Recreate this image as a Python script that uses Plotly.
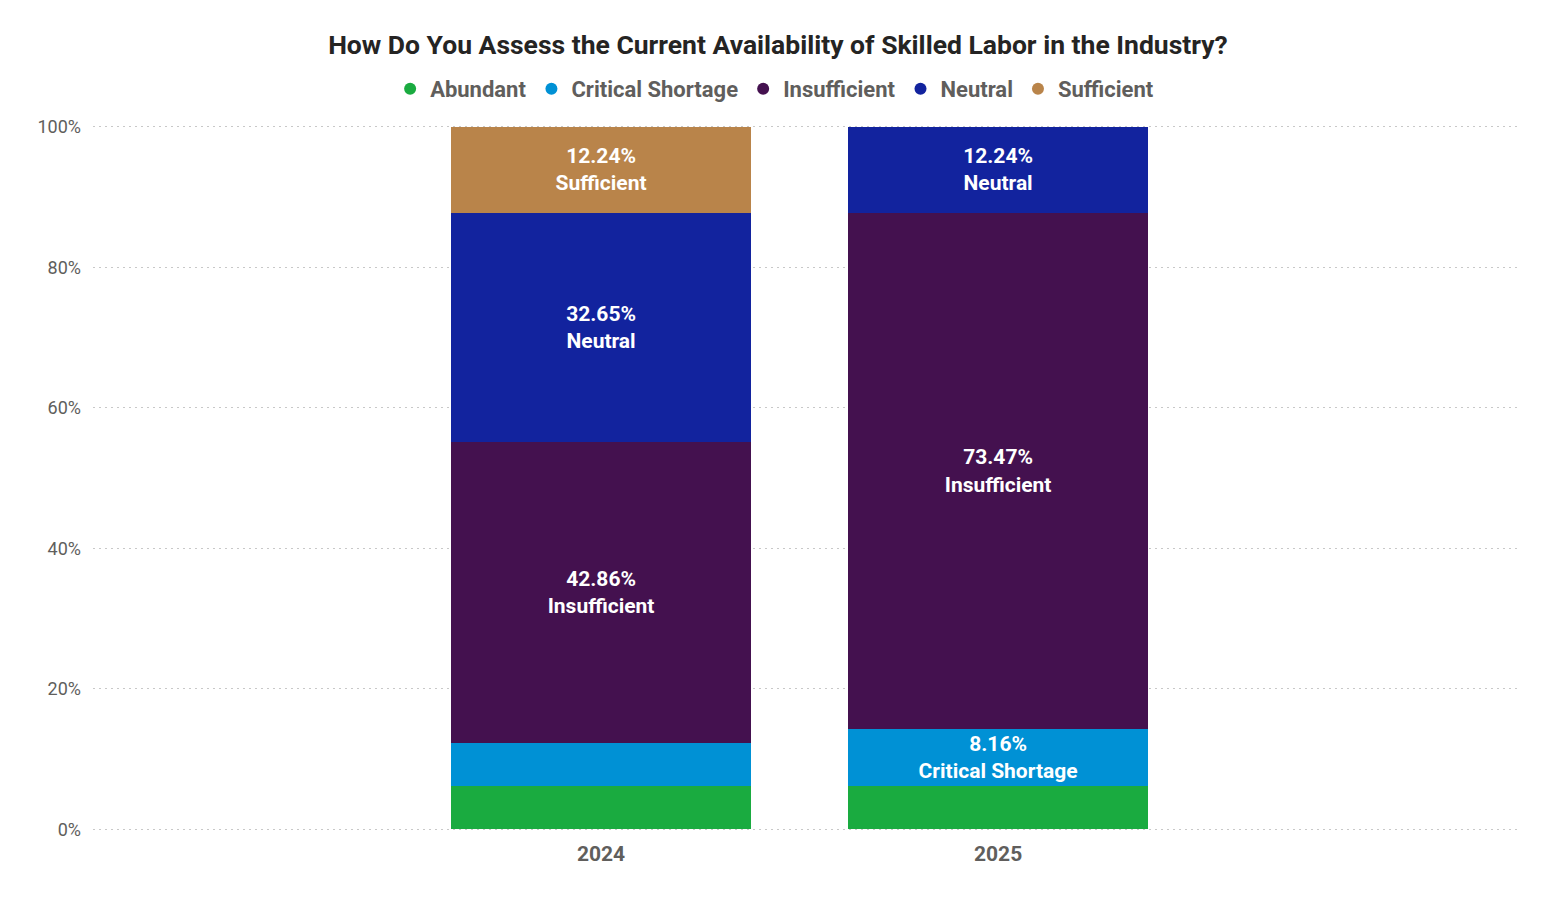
import plotly.graph_objects as go

years = ["2024", "2025"]
categories = ["Abundant", "Critical Shortage", "Insufficient", "Neutral", "Sufficient"]
values = {
    "Abundant": [6.12, 6.12],
    "Critical Shortage": [6.12, 8.16],
    "Insufficient": [42.86, 73.47],
    "Neutral": [32.65, 12.24],
    "Sufficient": [12.24, 0.0],
}
colors = {
    "Abundant": "#1AAB40",
    "Critical Shortage": "#0091D5",
    "Insufficient": "#44114F",
    "Neutral": "#12239E",
    "Sufficient": "#B9844A",
}
label_min = 7.0  # segments below this share show no label

FONT = "Roboto, sans-serif"

fig = go.Figure()
for cat in categories:
    vals = values[cat]
    texts = [f"<b>{v:.2f}%<br>{cat}</b>" if v >= label_min else "" for v in vals]
    fig.add_trace(go.Bar(
        x=years, y=vals, name=cat,
        marker=dict(color=colors[cat], line=dict(width=0)),
        text=texts, textposition="inside", insidetextanchor="middle",
        textangle=0, constraintext="none",
        textfont=dict(color="white", size=21, family=FONT),
        width=0.757, showlegend=False, hoverinfo="skip",
    ))
    fig.add_trace(go.Scatter(
        x=[None], y=[None], mode="markers", name=f"<b>{cat}</b>",
        marker=dict(color=colors[cat], size=12, symbol="circle"),
        showlegend=True,
    ))

fig.update_layout(
    barmode="stack",
    width=1557, height=901,
    paper_bgcolor="white", plot_bgcolor="white",
    margin=dict(l=85, r=46, t=117, b=78),
    font=dict(family=FONT, color="#605E5C"),
    title=dict(text="<b>How Do You Assess the Current Availability of Skilled Labor in the Industry?</b>",
               x=0.4945, xanchor="center", y=1 - 37 / 901, yanchor="middle",
               font=dict(size=26.5, color="#252423", family=FONT)),
    legend=dict(orientation="h", x=0.478, xanchor="center", y=1 + (117 - 81) / 706, yanchor="middle",
                font=dict(size=22, color="#605E5C", family=FONT), traceorder="normal",
                itemwidth=30, tracegroupgap=0, itemsizing="constant"),
    xaxis=dict(type="category", range=[-1.2796, 2.312], showgrid=False, zeroline=False,
               showline=False, ticks="", ticklabelstandoff=8,
               tickfont=dict(size=21, color="#605E5C", family=FONT),
               tickprefix="<b>", ticksuffix="</b>"),
    yaxis=dict(range=[-0.25, 100.25], dtick=20, ticksuffix="%", showgrid=True,
               gridcolor="#C8C8C8", griddash="2px,4px", gridwidth=1, zeroline=False,
               showline=False, tickfont=dict(size=18, color="#605E5C", family=FONT),
               ticklabelstandoff=11),
)

fig.write_html("out.html")
